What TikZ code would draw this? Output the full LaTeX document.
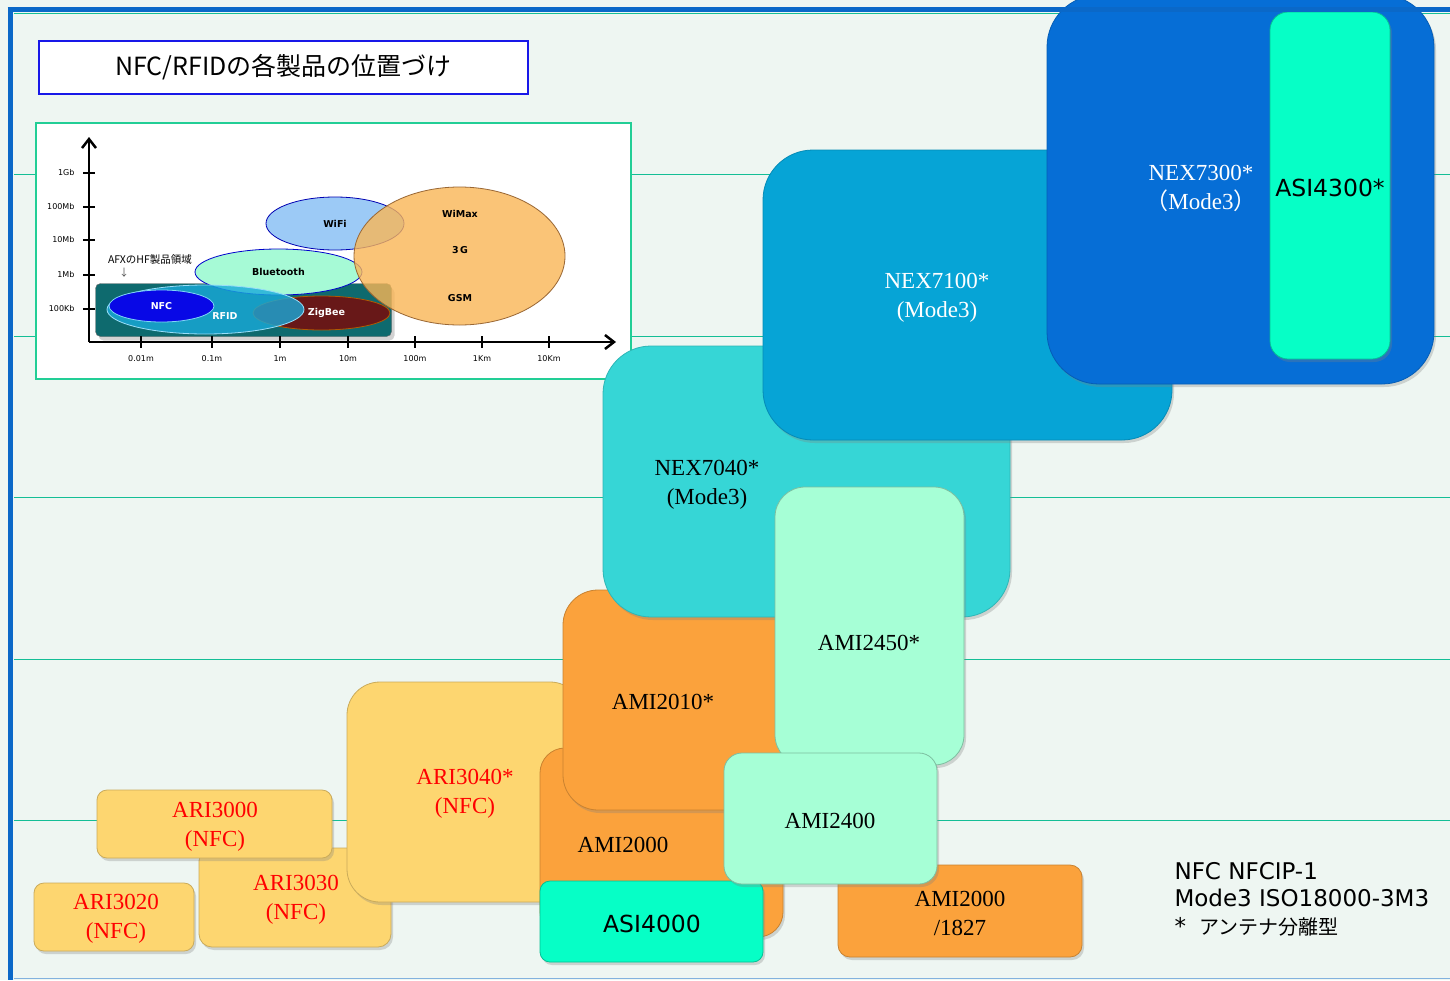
\documentclass[tikz,border=0pt]{standalone}
\usepackage{fontspec}
\setmainfont{Liberation Serif}
\newfontfamily\jpfont{Noto Sans CJK JP}
\newfontfamily\vfont{DejaVu Sans}
\usetikzlibrary{shapes.geometric,shadows,arrows.meta}

\definecolor{bgmint}{RGB}{238,246,242}
\definecolor{frameblue}{RGB}{10,104,200}
\definecolor{gridteal}{RGB}{20,190,150}
\definecolor{edgeblue}{RGB}{130,178,222}
\definecolor{insetgreen}{RGB}{34,206,150}
\definecolor{titleblue}{RGB}{24,24,232}
\definecolor{ariyel}{RGB}{253,214,112}
\definecolor{amiorange}{RGB}{251,162,60}
\definecolor{nexturq}{RGB}{54,214,214}
\definecolor{nexsky}{RGB}{6,164,214}
\definecolor{nexblue}{RGB}{6,110,214}
\definecolor{asiaqua}{RGB}{6,255,198}
\definecolor{amimint}{RGB}{166,255,214}
\definecolor{afxteal}{RGB}{14,106,110}
\definecolor{wifiblue}{RGB}{156,202,246}
\definecolor{btmint}{RGB}{166,250,214}
\definecolor{rfidblue}{RGB}{24,170,218}
\definecolor{nfcblue}{RGB}{8,8,230}
\definecolor{zigred}{RGB}{104,24,24}
\definecolor{cellorange}{RGB}{249,182,86}

\tikzset
{
    prodbox/.style  = {rectangle, rounded corners=#1, inner sep=0pt, line width=0.8pt, drop shadow={shadow xshift=2pt, shadow yshift=-3pt, opacity=0.3}},
    yelfill/.style  = {fill=ariyel, draw=ariyel!80!black},
    orafill/.style  = {fill=amiorange, draw=amiorange!80!black},
    turqfill/.style = {fill=nexturq, draw=nexturq!85!black},
    skyfill/.style  = {fill=nexsky, draw=nexsky!85!black},
    bluefill/.style = {fill=nexblue, draw=nexblue!85!black},
    aquafill/.style = {fill=asiaqua, draw=asiaqua!75!black},
    mintfill/.style = {fill=amimint, draw=amimint!75!black},
    prodtext/.style = {align=center, font=\fontsize{23}{29}\selectfont},
    redtext/.style  = {prodtext, text=red},
    sanstext/.style = {font=\vfont\fontsize{23.5}{27}\selectfont},
    gridline/.style = {draw=gridteal, line width=1pt},
    bubble/.style   = {ellipse, inner sep=0pt, line width=0.8pt, font=\vfont\bfseries\fontsize{9.5}{11}\selectfont},
    axisline/.style = {line width=2.5pt, -{Straight Barb[length=9pt, width=14pt]}},
    ticklabel/.style= {font=\vfont\fontsize{8}{9}\selectfont}
}

\begin{document}
\begin{tikzpicture}[x=1pt, y=-1pt]
\useasboundingbox (0,0) rectangle (1450,980);
\fill[bgmint] (0,0) rectangle (1450,980);
\foreach \y in {13,174,336,497,659,820}
    \draw[gridline] (14,\y) -- (1450,\y);
\draw[edgeblue, line width=1.5pt] (14,978.5) -- (1450,978.5);
\draw[frameblue, line width=5pt] (10,7) -- (10,980);

%% title
\node (title) [fill=white, draw=titleblue, line width=2pt, minimum width=489pt, minimum height=53pt, font=\jpfont\fontsize{25}{28}\selectfont] at (283.5,67.5) {NFC/RFIDの各製品の位置づけ};

%% range chart
\node (inset) [fill=white, draw=insetgreen, line width=2pt, minimum width=595pt, minimum height=256pt, inner sep=0pt] at (333.5,251) {};
\node (afx)  [rounded corners=5pt, fill=afxteal, draw=black!60, minimum width=296pt, minimum height=53pt, inner sep=0pt, drop shadow={shadow xshift=3pt, shadow yshift=-4pt, opacity=0.35}] at (243.5,310) {};
\node (wifi) [bubble, fill=wifiblue, draw=blue!70!black] at (335,223.5) [minimum width=138pt, minimum height=53pt] {WiFi};
\node (bt)   [bubble, fill=btmint, draw=blue!80!black, minimum width=167pt, minimum height=46pt] at (278.5,272) {Bluetooth};
\node (zig)  [bubble, fill=zigred, draw=orange!70!black, text=white, minimum width=137pt, minimum height=34pt] at (321.5,313) {\hspace{10pt}ZigBee};
\node (rfid) [bubble, fill=rfidblue, fill opacity=0.8, draw=cyan!40, minimum width=197pt, minimum height=49pt] at (205.5,309.5) {};
\node (rfidl)[bubble, text=white] at (225,316) {RFID};
\node (nfc)  [bubble, fill=nfcblue, draw=cyan!50, text=white, minimum width=105pt, minimum height=32pt] at (161.5,306) {NFC};
\node (cell) [bubble, fill=cellorange, fill opacity=0.8, draw=brown!80!black, minimum width=211pt, minimum height=138pt] at (459.5,256) {};
\node (wimax)[bubble] at (460,214) {WiMax};
\node (g3)   [bubble] at (460,250) {3\,G};
\node (gsm)  [bubble] at (460,298) {GSM};
\node (afxl) [font=\jpfont\fontsize{10.5}{12}\selectfont] at (150,260) {AFXのHF製品領域};
\node (afxa) [font=\jpfont\fontsize{10}{12}\selectfont, text=black!70] at (124,273) {↓};

\coordinate (o)    at (89,342);
\coordinate (ytop) at (89,137);
\coordinate (xend) at (616,342);
\draw[axisline] (o) -- (ytop);
\draw[axisline] (o) -- (xend);
\foreach \y/\l in {173/1Gb, 207/100Mb, 240/10Mb, 275/1Mb, 309/100Kb}
{
    \draw[line width=2.5pt] (83,\y) -- (95,\y);
    \node[ticklabel, anchor=east] at (78,\y) {\l};
}
\foreach \x/\l in {141/0.01m, 212/0.1m, 280/1m, 348/10m, 415/100m, 482/1Km, 549/10Km}
{
    \draw[line width=2.5pt] (\x,336) -- (\x,348);
    \node[ticklabel] at (\x,359) {\l};
}

%% products
\node (ari3020) [prodbox=10pt, yelfill, minimum width=160pt, minimum height=68pt] at (114,917) {};
\node (ari3020l) [redtext] at (116,919) {ARI3020\\(NFC)};
\node (ari3030) [prodbox=13pt, yelfill, minimum width=192pt, minimum height=99pt] at (295,897.5) {};
\node (ari3030l) [redtext] at (296,900) {ARI3030\\(NFC)};
\node (ari3040) [prodbox=33pt, yelfill, minimum width=236pt, minimum height=220pt] at (465,792) {};
\node (ari3040l) [redtext] at (465,794) {ARI3040*\\(NFC)};
\node (ari3000) [prodbox=10pt, yelfill, minimum width=235pt, minimum height=68pt] at (214.5,824) {};
\node (ari3000l) [redtext] at (215,827) {ARI3000\\(NFC)};

\node (ami2000) [prodbox=25pt, orafill, minimum width=243pt, minimum height=189pt] at (661.5,842.5) {};
\node (ami2000l) [prodtext] at (623,845) {AMI2000};
\node (asi4000) [prodbox=10pt, aquafill, minimum width=223pt, minimum height=81pt] at (651.5,921.5) {};
\node (asi4000l) [sanstext] at (652,924) {ASI4000};
\node (ami2010) [prodbox=35pt, orafill, minimum width=227pt, minimum height=220pt] at (676.5,700) {};
\node (ami2010l) [prodtext] at (663,702) {AMI2010*};

\node (nex7040) [prodbox=48pt, turqfill, minimum width=407pt, minimum height=271pt] at (806.5,481.5) {};
\node (nex7040l) [prodtext] at (707,485) {NEX7040*\\(Mode3)};
\node (nex7100) [prodbox=50pt, skyfill, minimum width=409pt, minimum height=290pt] at (967.5,295) {};
\node (nex7100l) [prodtext, text=white] at (937,298) {NEX7100*\\(Mode3)};
\node (nex7300) [prodbox=52pt, bluefill, minimum width=387pt, minimum height=389pt] at (1240.5,189.5) {};
\node (nex7300l) [prodtext, text=white] at (1201,188) {NEX7300*\\{\jpfont （}Mode3{\jpfont ）}};
\node (asi4300) [prodbox=18pt, aquafill, minimum width=120pt, minimum height=347pt] at (1330,185.5) {};
\node (asi4300l) [sanstext] at (1330,188) {ASI4300*};

\node (ami2450) [prodbox=30pt, mintfill, minimum width=189pt, minimum height=278pt] at (869.5,626) {};
\node (ami2450l) [prodtext] at (869,643) {AMI2450*};
\node (ami1827) [prodbox=12pt, orafill, minimum width=244pt, minimum height=92pt] at (960,911) {};
\node (ami1827l) [prodtext] at (960,913) {AMI2000\\/1827};
\node (ami2400) [prodbox=18pt, mintfill, minimum width=213pt, minimum height=131pt] at (830.5,818.5) {};
\node (ami2400l) [prodtext] at (830,821) {AMI2400};

%% legend
\node (legend) [anchor=west, align=left, font=\vfont\fontsize{23}{27.5}\selectfont] at (1171,899)
    {NFC NFCIP-1\\Mode3 ISO18000-3M3\\*\hspace{13pt}{\jpfont\fontsize{20}{27.5}\selectfont アンテナ分離型}};

\draw[frameblue, line width=5pt] (7.5,9.5) -- (1450,9.5);
\end{tikzpicture}
\end{document}
